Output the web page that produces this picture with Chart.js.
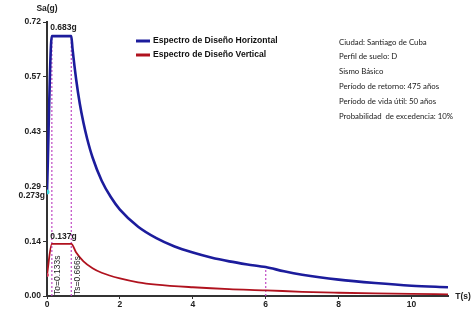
<!DOCTYPE html>
<html>
<head>
<meta charset="utf-8">
<script src="https://cdn.jsdelivr.net/npm/chart.js@4.4.0/dist/chart.umd.min.js"></script>
<style>
  html, body { margin: 0; padding: 0; background: #fff; }
</style>
</head>
<body>
<canvas id="espectro" width="473" height="311"></canvas>
<script>
// valores
const periodosH = [0, 0.133, 0.666, 0.7, 0.8, 0.9, 1.0, 1.1, 1.25, 1.5, 1.75, 2, 2.5, 3, 3.5, 4, 4.5, 5, 5.5, 6, 6.5, 7, 8, 9, 10, 11];
const saHorizontal = [0.273, 0.683, 0.683, 0.650, 0.569, 0.505, 0.455, 0.414, 0.364, 0.303, 0.260, 0.227, 0.182, 0.152, 0.130, 0.114, 0.101, 0.091, 0.083, 0.076, 0.065, 0.056, 0.043, 0.034, 0.027, 0.023];

const periodosV = [0, 0.133, 0.666, 0.8, 1.0, 1.25, 1.5, 2, 2.5, 3, 4, 5, 6, 7, 8, 9, 10, 11];
const saVertical = [0.055, 0.137, 0.137, 0.114, 0.091, 0.073, 0.061, 0.046, 0.036, 0.030, 0.023, 0.018, 0.015, 0.011, 0.0086, 0.0068, 0.0055, 0.0045];

// lineas de referencia (T0, Ts, TL)
const periodosRef = [0.133, 0.666, 6];
const alturasRef = [0.683, 0.683, 0.076];

const yTicks = [0, 0.144, 0.288, 0.432, 0.576, 0.72];
const yTickLabels = ['0.00', '0.14', '0.29', '0.43', '0.57', '0.72'];
const xTicks = [0, 2, 4, 6, 8, 10];

const leyenda = ['Espectro de Diseño Horizontal', 'Espectro de Diseño Vertical'];
const infoLineas = [
  'Ciudad: Santiago de Cuba',
  'Perfil de suelo: D',
  'Sismo Básico',
  'Período de retorno: 475 años',
  'Período de vida útil: 50 años',
  'Probabilidad  de excedencia: 10%'
];

const AZUL = '#1c1c9c';
const ROJO = '#b0121e';
const MORADO = '#c04ac4';

const toXY = (xs, ys) => xs.map((x, i) => ({ x, y: ys[i] }));

const refDatasets = periodosRef.map((t, i) => ({
  data: [{ x: t, y: 0 }, { x: t, y: alturasRef[i] }],
  borderColor: MORADO,
  borderWidth: 1.2,
  borderDash: [2, 2],
  pointRadius: 0,
  order: 5,
}));

const textosPlugin = {
  id: 'textosPlugin',
  afterDraw(chart) {
    const { ctx, scales } = chart;
    const xs = scales.x, ys = scales.y;
    ctx.save();

    // titulos de ejes
    ctx.fillStyle = '#222';
    ctx.font = 'bold 8.5px "Liberation Sans", Arial';
    ctx.textAlign = 'center';
    ctx.textBaseline = 'middle';
    ctx.fillText('Sa(g)', 47, 9);
    ctx.fillText('T(s)', 463, 297);

    // valores anotados
    ctx.textBaseline = 'alphabetic';
    ctx.fillText('0.683g', xs.getPixelForValue(0.45), ys.getPixelForValue(0.683) - 6);
    ctx.fillText('0.137g', xs.getPixelForValue(0.45), ys.getPixelForValue(0.137) - 5);
    ctx.textAlign = 'right';
    ctx.textBaseline = 'middle';
    ctx.fillText('0.273g', 45, ys.getPixelForValue(0.273) + 4);

    // etiquetas verticales T0 y Ts
    ctx.font = '8.5px "Liberation Sans", Arial';
    ctx.textAlign = 'left';
    [['To=0.133s', 0.133], ['Ts=0.666s', 0.666]].forEach(([txt, t]) => {
      ctx.save();
      ctx.translate(xs.getPixelForValue(t) + 6, ys.getPixelForValue(0) - 1);
      ctx.rotate(-Math.PI / 2);
      ctx.fillText(txt, 0, 0);
      ctx.restore();
    });

    // leyenda
    ctx.font = 'bold 8.6px "Liberation Sans", Arial';
    ctx.textBaseline = 'middle';
    [[AZUL, 41], [ROJO, 55]].forEach(([col, y], i) => {
      ctx.strokeStyle = col;
      ctx.lineWidth = 3;
      ctx.beginPath();
      ctx.moveTo(136, y);
      ctx.lineTo(150, y);
      ctx.stroke();
      ctx.fillStyle = '#111';
      ctx.fillText(leyenda[i], 153, y);
    });

    // datos del sitio
    ctx.font = '7.8px Lato, "Open Sans", sans-serif';
    ctx.fillStyle = '#1a1a1a';
    infoLineas.forEach((l, i) => ctx.fillText(l, 339, 42 + i * 14.8));

    ctx.restore();
  }
};

new Chart(document.getElementById('espectro').getContext('2d'), {
  type: 'line',
  data: {
    datasets: [
      {
        data: toXY(periodosH, saHorizontal),
        borderColor: AZUL,
        borderWidth: 2.6,
        cubicInterpolationMode: 'monotone',
        pointRadius: (c) => (c.dataIndex === 0 ? 2.5 : 0),
        pointBackgroundColor: '#3fd8e0',
        pointBorderWidth: 0,
        order: 1,
      },
      {
        data: toXY(periodosV, saVertical),
        borderColor: ROJO,
        borderWidth: 1.8,
        cubicInterpolationMode: 'monotone',
        pointRadius: (c) => (c.dataIndex === 0 ? 2 : 0),
        pointBackgroundColor: '#e04060',
        pointBorderWidth: 0,
        order: 2,
      },
      ...refDatasets,
    ],
  },
  options: {
    responsive: false,
    animation: false,
    devicePixelRatio: 1,
    layout: { padding: { top: 22, right: 25, left: 0, bottom: 0 } },
    plugins: { legend: { display: false }, tooltip: { enabled: false } },
    scales: {
      x: {
        type: 'linear',
        min: 0,
        max: 11,
        afterBuildTicks: (s) => { s.ticks = xTicks.map((v) => ({ value: v })); },
        afterFit: (s) => { s.height = 15; },
        border: { display: true, color: '#333', width: 2 },
        grid: { drawOnChartArea: false, drawTicks: true, tickLength: 3, color: '#333' },
        ticks: {
          color: '#222',
          padding: 1,
          maxRotation: 0,
          font: { family: '"Liberation Sans", Arial', size: 8.5, weight: 'bold' },
        },
      },
      y: {
        min: 0,
        max: 0.72,
        afterBuildTicks: (s) => { s.ticks = yTicks.map((v) => ({ value: v })); },
        afterFit: (s) => { s.width = 47; },
        border: { display: true, color: '#333', width: 2 },
        grid: { drawOnChartArea: false, drawTicks: true, tickLength: 4, color: '#333' },
        ticks: {
          color: '#222',
          padding: 2,
          callback: (v, i) => yTickLabels[i],
          font: { family: '"Liberation Sans", Arial', size: 8.5, weight: 'bold' },
        },
      },
    },
  },
  plugins: [textosPlugin],
});
</script>
</body>
</html>
